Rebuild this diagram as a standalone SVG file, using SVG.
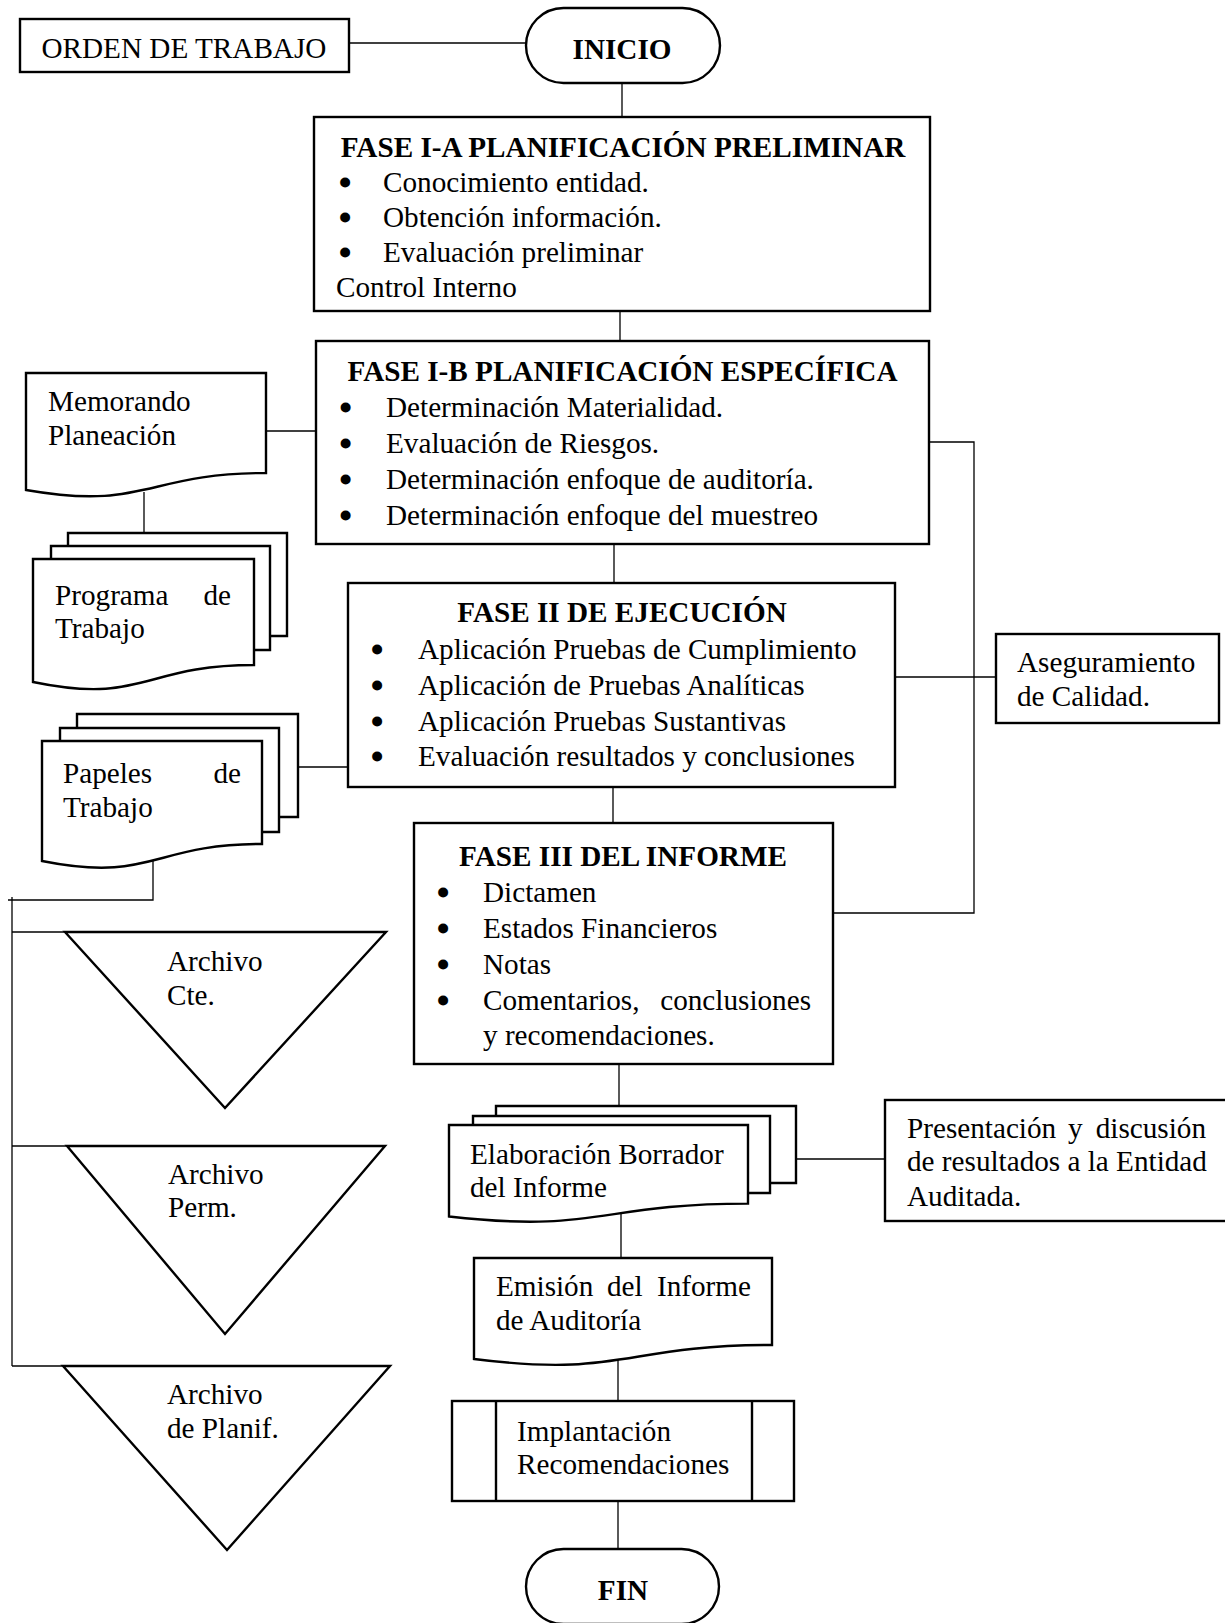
<svg xmlns="http://www.w3.org/2000/svg" width="1225" height="1623" viewBox="0 0 1225 1623">
<style>
.box{fill:#fff;stroke:#000;stroke-width:2.4;stroke-linejoin:miter}
.conn{fill:none;stroke:#000;stroke-width:1.3}
.t{font-family:"Liberation Serif","Times New Roman",serif;font-size:29.2px;fill:#000}
.bu{font-family:"Liberation Serif","Times New Roman",serif;font-size:29.2px;fill:#000;stroke:#000;stroke-width:3;stroke-linejoin:round}
.b{font-weight:bold}
.m{text-anchor:middle}
.e{text-anchor:end}
</style>
<rect width="1225" height="1623" fill="#fff"/>
<g id="connectors">
<line class="conn" x1="349" y1="43" x2="526" y2="43"/>
<line class="conn" x1="622" y1="83" x2="622" y2="117"/>
<line class="conn" x1="620" y1="311" x2="620" y2="341"/>
<line class="conn" x1="264" y1="431" x2="316" y2="431"/>
<line class="conn" x1="144" y1="492" x2="144" y2="533"/>
<line class="conn" x1="614" y1="544" x2="614" y2="583"/>
<polyline class="conn" points="929,442 974,442 974,913 831,913"/>
<line class="conn" x1="895" y1="677" x2="996" y2="677"/>
<line class="conn" x1="298" y1="767" x2="348" y2="767"/>
<line class="conn" x1="613" y1="787" x2="613" y2="823"/>
<polyline class="conn" points="153,860 153,900 8,900"/>
<line class="conn" x1="12" y1="897" x2="12" y2="1366"/>
<line class="conn" x1="12" y1="932" x2="65" y2="932"/>
<line class="conn" x1="12" y1="1146" x2="67" y2="1146"/>
<line class="conn" x1="12" y1="1366" x2="63" y2="1366"/>
<line class="conn" x1="619" y1="1064" x2="619" y2="1106"/>
<line class="conn" x1="796" y1="1159" x2="885" y2="1159"/>
<line class="conn" x1="621" y1="1207" x2="621" y2="1258"/>
<line class="conn" x1="618" y1="1360" x2="618" y2="1401"/>
<line class="conn" x1="618" y1="1501" x2="618" y2="1549"/>
</g>
<g id="orden">
<rect class="box" x="20" y="19" width="329" height="53"/>
<text class="t" x="41.5" y="58">ORDEN DE TRABAJO</text>
</g>
<g id="inicio">
<rect class="box" x="526" y="8" width="194" height="75" rx="37.5"/>
<text class="t b m" x="622" y="59">INICIO</text>
</g>
<g id="fase1a">
<rect class="box" x="314" y="117" width="616" height="194"/>
<text class="t b m" x="623" y="157">FASE I-A PLANIFICACIÓN PRELIMINAR</text>
<text class="bu" x="340" y="193">•</text><text class="t" x="383" y="192">Conocimiento entidad.</text>
<text class="bu" x="340" y="228">•</text><text class="t" x="383" y="227">Obtención información.</text>
<text class="bu" x="340" y="263">•</text><text class="t" x="383" y="262">Evaluación preliminar</text>
<text class="t" x="336" y="297">Control Interno</text>
</g>
<g id="fase1b">
<rect class="box" x="316" y="341" width="613" height="203"/>
<text class="t b m" x="622.5" y="381">FASE I-B PLANIFICACIÓN ESPECÍFICA</text>
<text class="bu" x="340.5" y="418">•</text><text class="t" x="386" y="417">Determinación Materialidad.</text>
<text class="bu" x="340.5" y="454">•</text><text class="t" x="386" y="453">Evaluación de Riesgos.</text>
<text class="bu" x="340.5" y="490">•</text><text class="t" x="386" y="489">Determinación enfoque de auditoría.</text>
<text class="bu" x="340.5" y="526">•</text><text class="t" x="386" y="525">Determinación enfoque del muestreo</text>
</g>
<g id="memorando">
<path class="box" d="M26,373 L266,373 L266,473 C146,473 146,511 26,490 Z"/>
<text class="t" x="48" y="411">Memorando</text>
<text class="t" x="48" y="445">Planeación</text>
</g>
<g id="programa">
<polyline class="box" points="68,546 68,533 287,533 287,636 270,636"/>
<polyline class="box" points="51,559 51,546 270,546 270,650 254,650"/>
<path class="box" d="M33,559 L254,559 L254,665 C143.5,665 143.5,705 33,682 Z"/>
<text class="t" x="55" y="605">Programa <tspan class="e" x="231">de</tspan></text>
<text class="t" x="55" y="638">Trabajo</text>
</g>
<g id="fase2">
<rect class="box" x="348" y="583" width="547" height="204"/>
<text class="t b m" x="622" y="622">FASE II DE EJECUCIÓN</text>
<text class="bu" x="372" y="660">•</text><text class="t" x="418" y="659">Aplicación Pruebas de Cumplimiento</text>
<text class="bu" x="372" y="696">•</text><text class="t" x="418" y="695">Aplicación de Pruebas Analíticas</text>
<text class="bu" x="372" y="732">•</text><text class="t" x="418" y="731">Aplicación Pruebas Sustantivas</text>
<text class="bu" x="372" y="767">•</text><text class="t" x="418" y="766">Evaluación resultados y conclusiones</text>
</g>
<g id="aseguramiento">
<rect class="box" x="996" y="634" width="223" height="89"/>
<text class="t" x="1017" y="672">Aseguramiento</text>
<text class="t" x="1017" y="706">de Calidad.</text>
</g>
<g id="papeles">
<polyline class="box" points="77,728 77,714 298,714 298,817 279,817"/>
<polyline class="box" points="60,741 60,728 279,728 279,832 262,832"/>
<path class="box" d="M42,741 L262,741 L262,844 C152,844 152,883 42,861 Z"/>
<text class="t" x="63" y="783">Papeles <tspan class="e" x="241">de</tspan></text>
<text class="t" x="63" y="817">Trabajo</text>
</g>
<g id="fase3">
<rect class="box" x="414" y="823" width="419" height="241"/>
<text class="t b m" x="623" y="866">FASE III DEL INFORME</text>
<text class="bu" x="438" y="903">•</text><text class="t" x="483" y="902">Dictamen</text>
<text class="bu" x="438" y="939">•</text><text class="t" x="483" y="938">Estados Financieros</text>
<text class="bu" x="438" y="975">•</text><text class="t" x="483" y="974">Notas</text>
<text class="bu" x="438" y="1011">•</text><text class="t" x="483" y="1010">Comentarios, <tspan class="e" x="811">conclusiones</tspan></text>
<text class="t" x="483" y="1045">y recomendaciones.</text>
</g>
<g id="archivo-cte">
<polygon class="box" points="65,932 386,932 225,1108"/>
<text class="t" x="167" y="971">Archivo</text>
<text class="t" x="167" y="1005">Cte.</text>
</g>
<g id="archivo-perm">
<polygon class="box" points="67,1146 385,1146 225,1334"/>
<text class="t" x="168" y="1184">Archivo</text>
<text class="t" x="168" y="1217">Perm.</text>
</g>
<g id="archivo-planif">
<polygon class="box" points="63,1366 390,1366 227,1550"/>
<text class="t" x="167" y="1404">Archivo</text>
<text class="t" x="167" y="1438">de Planif.</text>
</g>
<g id="elaboracion">
<polyline class="box" points="496,1116 496,1106 796,1106 796,1183 770,1183"/>
<polyline class="box" points="473,1125 473,1116 770,1116 770,1193 748,1193"/>
<path class="box" d="M449,1125 L748,1125 L748,1203.6 C598.5,1203.6 598.5,1233.5 449,1216.5 Z"/>
<text class="t" x="470" y="1164">Elaboración Borrador</text>
<text class="t" x="470" y="1197">del Informe</text>
</g>
<g id="presentacion">
<rect class="box" x="885" y="1100" width="345" height="121"/>
<text class="t" x="907" y="1138">Presentación <tspan x="1068">y </tspan><tspan class="e" x="1206">discusión</tspan></text>
<text class="t" x="907" y="1171">de resultados a la Entidad</text>
<text class="t" x="907" y="1206">Auditada.</text>
</g>
<g id="emision">
<path class="box" d="M474,1258 L772,1258 L772,1345 C623,1345 623,1378 474,1359 Z"/>
<text class="t" x="496" y="1296">Emisión <tspan x="607">del </tspan><tspan class="e" x="751">Informe</tspan></text>
<text class="t" x="496" y="1330">de Auditoría</text>
</g>
<g id="implantacion">
<rect class="box" x="452" y="1401" width="342" height="100"/>
<line class="box" x1="496" y1="1401" x2="496" y2="1501"/>
<line class="box" x1="752" y1="1401" x2="752" y2="1501"/>
<text class="t" x="517" y="1441">Implantación</text>
<text class="t" x="517" y="1474">Recomendaciones</text>
</g>
<g id="fin">
<rect class="box" x="526" y="1549" width="193" height="75" rx="37.5"/>
<text class="t b m" x="623" y="1600">FIN</text>
</g>
</svg>
